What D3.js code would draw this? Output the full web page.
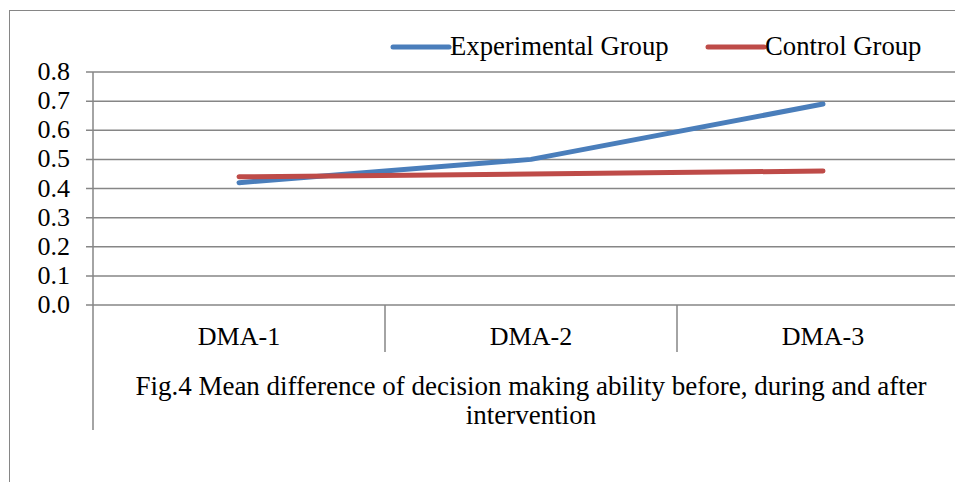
<!DOCTYPE html>
<html>
<head>
<meta charset="utf-8">
<script src="https://cdn.jsdelivr.net/npm/d3@7"></script>
<style>
  body { margin: 0; background: #fff; }
  svg text { font-family: "Liberation Serif", "Times New Roman", serif; }
</style>
</head>
<body>
<svg width="955" height="482"></svg>
<script>
// data
const categories = ["DMA-1", "DMA-2", "DMA-3"];
const experimental = [0.42, 0.50, 0.69];
const control = [0.44, 0.45, 0.46];
const yTicks = [0, 0.1, 0.2, 0.3, 0.4, 0.5, 0.6, 0.7, 0.8];
const seriesNames = ["Experimental Group", "Control Group"];
const captionLines = [
  "Fig.4 Mean difference of decision making ability before, during and after",
  "intervention",
];

const series = [
  { name: seriesNames[0], values: experimental, color: "#4a7ebb" },
  { name: seriesNames[1], values: control, color: "#be4b48" },
];

const fontSize = 26;
const svg = d3.select("svg");
const gridColor = "#868686";

// chart frame (runs off the right and bottom edges)
svg.append("rect")
  .attr("x", 9.5).attr("y", 10.5)
  .attr("width", 1000).attr("height", 1000)
  .attr("fill", "none").attr("stroke", gridColor).attr("stroke-width", 1);

const x = d3.scaleBand().domain(categories).range([93, 969]);
const y = d3.scaleLinear().domain([0, 0.8]).range([305, 72]);

// gridlines
svg.append("g")
  .selectAll("line")
  .data(yTicks)
  .join("line")
  .attr("x1", 86).attr("x2", 969)
  .attr("y1", (d) => y(d)).attr("y2", (d) => y(d))
  .attr("stroke", gridColor).attr("stroke-width", 1.5);

// y axis labels
svg.append("g")
  .selectAll("text")
  .data(yTicks)
  .join("text")
  .attr("x", 70)
  .attr("y", (d) => y(d) + 8)
  .attr("text-anchor", "end")
  .attr("font-size", fontSize)
  .text((d) => d.toFixed(1));

// y axis line, reaching down past the caption
svg.append("line")
  .attr("x1", 93).attr("x2", 93)
  .attr("y1", y(0.8)).attr("y2", 430)
  .attr("stroke", gridColor).attr("stroke-width", 1.5);

// category dividers
svg.append("g")
  .selectAll("line")
  .data(categories.slice(1))
  .join("line")
  .attr("x1", (d) => x(d)).attr("x2", (d) => x(d))
  .attr("y1", y(0)).attr("y2", 352)
  .attr("stroke", gridColor).attr("stroke-width", 1.5);

// category labels
svg.append("g")
  .selectAll("text")
  .data(categories)
  .join("text")
  .attr("x", (d) => x(d) + x.bandwidth() / 2)
  .attr("y", 345)
  .attr("text-anchor", "middle")
  .attr("font-size", fontSize)
  .text((d) => d);

// caption
svg.append("g")
  .selectAll("text")
  .data(captionLines)
  .join("text")
  .attr("x", 531)
  .attr("y", (d, i) => 395 + i * 29)
  .attr("text-anchor", "middle")
  .attr("font-size", 27)
  .text((d) => d);

// lines
const line = d3.line()
  .x((d, i) => x(categories[i]) + x.bandwidth() / 2)
  .y((d) => y(d));

svg.append("g")
  .selectAll("path")
  .data(series)
  .join("path")
  .attr("d", (d) => line(d.values))
  .attr("fill", "none")
  .attr("stroke", (d) => d.color)
  .attr("stroke-width", 5)
  .attr("stroke-linecap", "round")
  .attr("stroke-linejoin", "round");

// legend
const legendX = [393, 708];
const legend = svg.append("g")
  .selectAll("g")
  .data(series)
  .join("g")
  .attr("transform", (d, i) => `translate(${legendX[i]},47)`);

legend.append("line")
  .attr("x1", 0).attr("x2", 56)
  .attr("stroke", (d) => d.color)
  .attr("stroke-width", 5)
  .attr("stroke-linecap", "round");

legend.append("text")
  .attr("x", 57)
  .attr("y", 8)
  .attr("font-size", 26.7)
  .text((d) => d.name);

svg.selectAll("text").style("font-family", "'Liberation Serif', 'Times New Roman', serif");
</script>
</body>
</html>
